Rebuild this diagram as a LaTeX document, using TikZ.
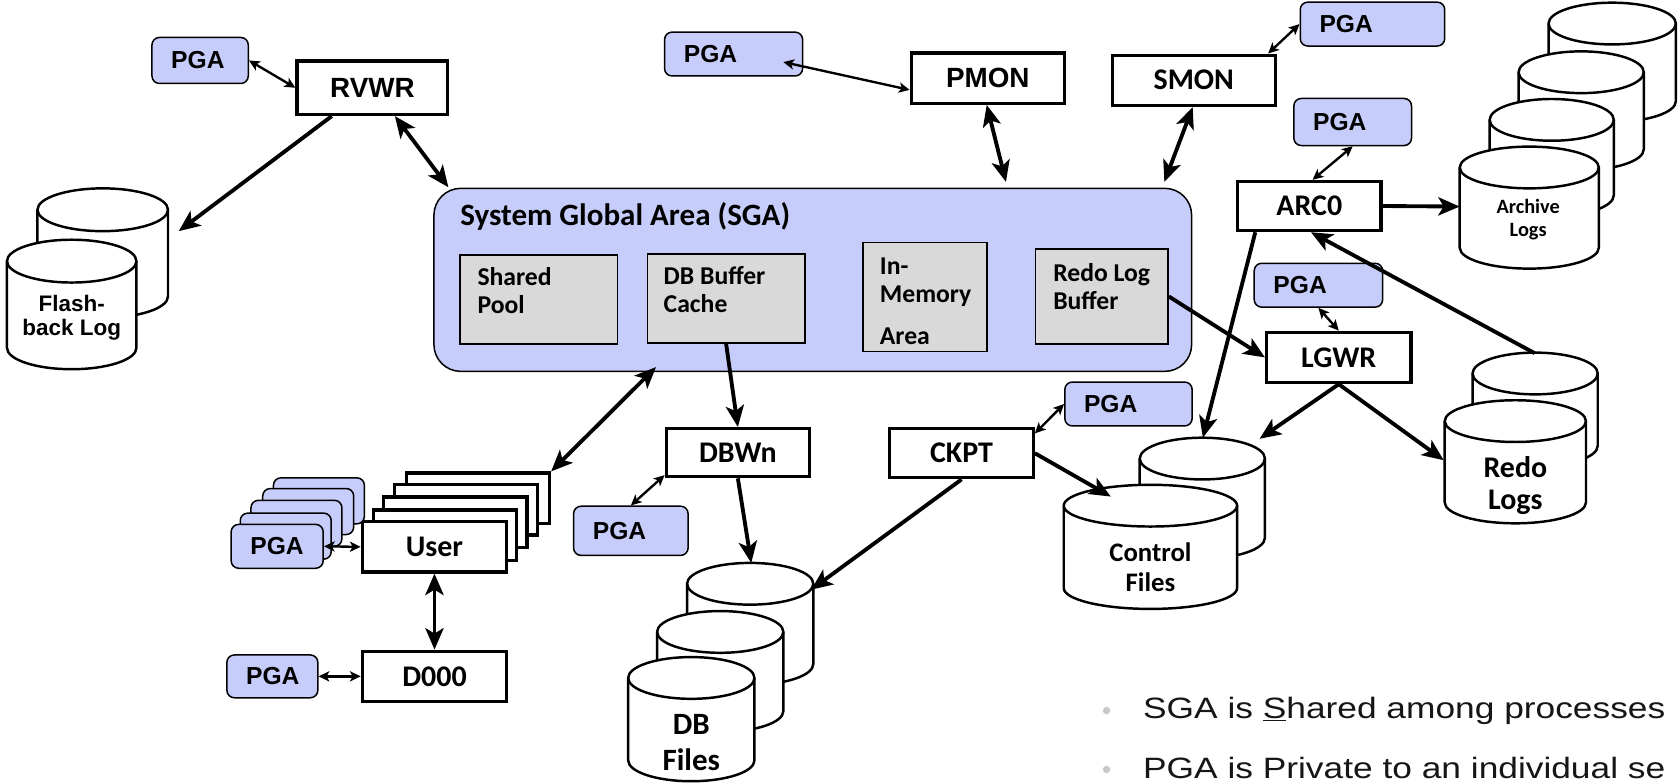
\documentclass[tikz,border=0pt]{standalone}
\usepackage{fontspec}
\setmainfont{Liberation Sans}
\newfontfamily\arialf{Liberation Sans}
\newfontfamily\plexf{Carlito}
\newfontfamily\bulf[FakeStretch=1.2]{Liberation Sans}
\usetikzlibrary{arrows.meta,calc}

\definecolor{pgablue}{RGB}{199,205,250}
\definecolor{memgray}{RGB}{217,217,217}
\definecolor{dotgray}{RGB}{200,200,200}
\definecolor{bultext}{RGB}{22,22,22}

\tikzset{
  bigtip/.tip={Stealth[length=20pt,width=17pt,inset=5pt]},
  smalltip/.tip={Stealth[length=10pt,width=9.5pt,inset=2.5pt]},
  flow/.style={line width=3.6pt,-bigtip},
  biflow/.style={line width=3.6pt,bigtip-bigtip},
  link/.style={line width=2.2pt,smalltip-smalltip},
  proc/.style={draw,line width=3pt,fill=white,inner sep=0pt,font=\plexf\bfseries\fontsize{28}{30}\selectfont},
  procA/.style={proc,font=\arialf\bfseries\fontsize{26}{28}\selectfont},
  pga/.style={draw,line width=1.4pt,fill=pgablue,rounded corners=7pt,inner xsep=18pt,inner ysep=0pt,align=left,font=\arialf\bfseries\fontsize{23}{25}\selectfont},
  pgaback/.style={draw,line width=1.4pt,fill=pgablue,rounded corners=7pt,inner sep=0pt,minimum width=85pt,minimum height=43pt},
  sgabox/.style={draw,line width=1.4pt,fill=pgablue,rounded corners=25pt,inner sep=0pt},
  membox/.style={draw,line width=1.4pt,fill=memgray,inner sep=0pt},
  memtext/.style={inner sep=0pt,anchor=north west,align=left,font=\plexf\bfseries\fontsize{24}{26}\selectfont},
  cyl/.style={draw,line width=2.3pt,fill=white,line join=round},
  cyllabel/.style={inner sep=0pt,align=center},
  bullet/.style={circle,fill=dotgray,inner sep=0pt,minimum size=7pt},
  bultxt/.style={anchor=base west,inner sep=0pt,text=bultext,font=\bulf\fontsize{27.5}{30}\selectfont},
}

% cylinder: cx, top, bottom, rx, ry
\newcommand{\dbcyl}[5]{%
  \path[cyl] ({#1-#4},{#2+#5}) -- ({#1-#4},{#3-#5})
     arc[start angle=180,end angle=0,x radius=#4,y radius=#5]
     -- ({#1+#4},{#2+#5})
     arc[start angle=0,end angle=-180,x radius=#4,y radius=#5] -- cycle;
  \draw[cyl,fill=none] ({#1-#4},{#2+#5}) arc[start angle=180,end angle=0,x radius=#4,y radius=#5];
}

\begin{document}
\begin{tikzpicture}[x=1pt,y=-1pt]
\path[fill=white,use as bounding box] (0,0) rectangle (1568,732);

% ---------- SGA ----------
\node[sgabox,minimum width=708pt,minimum height=171pt] (sga) at (759.5,261.5) {};
\node[anchor=west,inner sep=0pt,font=\plexf\bfseries\fontsize{29}{32}\selectfont] (sgatitle) at (430,202) {System Global Area (SGA)};
\node[membox,minimum width=147pt,minimum height=83pt] (shared) at (503.5,280) {};
\node[memtext] (sharedtxt) at (446,250) {Shared\\Pool};
\node[membox,minimum width=147pt,minimum height=83pt] (dbbuf) at (678.5,279) {};
\node[memtext] (dbbuftxt) at (620,249) {DB Buffer\\Cache};
\node[membox,minimum width=116pt,minimum height=102pt] (inmem) at (864.5,277.5) {};
\node[memtext] (inmemtxt) at (822,241) {In-\\Memory\\[13pt]Area};
\node[membox,minimum width=124pt,minimum height=89pt] (redobuf) at (1029.5,277) {};
\node[memtext] (redobuftxt) at (984,246) {Redo Log\\Buffer};

% ---------- cylinders ----------
% Flashback log
\dbcyl{96}{176}{297}{61}{20}
\dbcyl{67}{224}{345}{60.5}{20}
\node[cyllabel,font=\arialf\bfseries\fontsize{21}{23}\selectfont] (fbtxt) at (67,297) {Flash-\\back Log};
% Archive logs
\dbcyl{1506.5}{2.5}{114}{59.5}{19.5}
\dbcyl{1477.5}{48}{159}{58.5}{19.5}
\dbcyl{1450}{92.5}{202}{58}{19.5}
\dbcyl{1429}{137}{251}{65}{19.5}
\node[cyllabel,font=\plexf\bfseries\fontsize{19}{22}\selectfont] (archtxt) at (1428,205) {Archive\\Logs};
% Redo logs
\dbcyl{1434.5}{329.5}{436}{58.5}{19.5}
\dbcyl{1416}{374}{489}{66}{19.5}
\node[cyllabel,font=\plexf\bfseries\fontsize{28}{30}\selectfont] (redotxt) at (1416,454) {Redo\\Logs};
% Control files
\dbcyl{1123.5}{409}{522}{58.5}{19.5}
\dbcyl{1075}{453}{569}{81}{19.5}
\node[cyllabel,font=\plexf\bfseries\fontsize{25}{28}\selectfont] (ctltxt) at (1075,530) {Control\\Files};
% DB files
\dbcyl{701}{526}{640}{59}{19.5}
\dbcyl{673}{571}{684}{59}{19.5}
\dbcyl{646}{614}{730}{59}{19.5}
\node[cyllabel,font=\plexf\bfseries\fontsize{29}{33}\selectfont] (dbtxt) at (646,694) {DB\\Files};

% ---------- processes ----------
\node[procA,minimum width=141pt,minimum height=50pt] (rvwr) at (348,82) {RVWR};
\node[procA,minimum width=143pt,minimum height=47pt] (pmon) at (923,73) {PMON};
\node[proc,minimum width=152pt,minimum height=47pt] (smon) at (1115.5,75) {SMON};
\node[proc,minimum width=134pt,minimum height=46pt] (arc0) at (1223.5,192.5) {ARC0};
\node[proc,minimum width=135pt,minimum height=47pt] (lgwr) at (1251,334) {LGWR};
\node[proc,minimum width=134pt,minimum height=46pt] (ckpt) at (898.5,423.5) {CKPT};
\node[proc,minimum width=134pt,minimum height=45pt] (dbwn) at (689.5,423) {DBWn};
\node[proc,minimum width=134pt,minimum height=47pt] (userL4) at (446.5,465.5) {};
\node[proc,minimum width=134pt,minimum height=47pt] (userL3) at (435.5,476.5) {};
\node[proc,minimum width=134pt,minimum height=47pt] (userL2) at (425.5,488) {};
\node[proc,minimum width=134pt,minimum height=47pt] (userL1) at (416,500) {};
\node[proc,minimum width=135pt,minimum height=47pt] (user) at (406,511) {User};
\node[proc,minimum width=135pt,minimum height=47pt] (d000) at (406,632) {D000};

% ---------- PGAs ----------
\node[pga,text width=54pt,minimum height=43pt] (pga1) at (187,56.5) {PGA};
\node[pga,text width=93pt,minimum height=41pt] (pga2) at (685.5,50.5) {PGA};
\node[pga,text width=99pt,minimum height=41pt] (pga3) at (1282.5,22.5) {PGA};
\node[pga,text width=74pt,minimum height=44pt] (pga4) at (1264,114) {PGA};
\node[pga,text width=84pt,minimum height=41pt] (pga5) at (1232,266.5) {PGA};
\node[pga,text width=83pt,minimum height=41pt] (pga6) at (1054.5,377.5) {PGA};
\node[pga,text width=71pt,minimum height=46pt] (pga7) at (589.5,496) {PGA};
\node[pgaback] (pgaL4) at (298,468) {};
\node[pgaback] (pgaL3) at (288,478) {};
\node[pgaback] (pgaL2) at (277,489) {};
\node[pgaback] (pgaL1) at (267,501) {};
\node[pga,text width=50pt,minimum height=41pt] (pgau) at (259,510.5) {PGA};
\node[pga,text width=49pt,minimum height=40pt] (pga8) at (254.5,632) {PGA};

% ---------- connector end points ----------
\coordinate (fbin) at (167,216);
\coordinate (sgaA) at (419,175);
\coordinate (sgaB) at (940,170);
\coordinate (sgaC) at (1088,170);
\coordinate (sgaD) at (613,343);
\coordinate (pga2in) at (732,58);
\coordinate (pmonin) at (850,84);
\coordinate (archin) at (1364,193);
\coordinate (ctlA) at (1124,409);
\coordinate (ctlB) at (1177,410);
\coordinate (ctlC) at (1038,464);
\coordinate (redoin) at (1349,430);
\coordinate (redoout) at (1434,330);
\coordinate (dbA) at (702,526);
\coordinate (dbB) at (758,551);

% ---------- connectors ----------
\draw[link] (pga1.east) -- (rvwr.west);
\draw[flow] ([xshift=-38pt]rvwr.south) -- (fbin);
\draw[biflow] ([xshift=21pt]rvwr.south) -- (sgaA);
\draw[link] (pga2in) -- (pmonin);
\draw[biflow] ([xshift=-1pt]pmon.south) -- (sgaB);
\draw[link] ([xshift=-8pt]smon.north east) -- (pga3.west);
\draw[biflow] ([xshift=-1pt]smon.south) -- (sgaC);
\draw[link] (pga4.south) -- ([xshift=3pt]arc0.north);
\draw[flow] (arc0.east) -- (archin);
\draw[flow] ([xshift=18pt]arc0.south west) -- (ctlA);
\draw[flow] (redoout) -- ([xshift=1.5pt]arc0.south);
\draw[link] (pga5.south) -- (lgwr.north);
\draw[flow] (redobuf.east) -- (lgwr.west);
\draw[flow] (lgwr.south) -- (ctlB);
\draw[flow] (lgwr.south) -- (redoin);
\draw[link] ([yshift=-6pt]ckpt.north east) -- (pga6.west);
\draw[flow] (ckpt.east) -- (ctlC);
\draw[flow] (ckpt.south) -- (dbB);
\draw[flow] (dbbuf.south) -- (dbwn.north);
\draw[flow] (dbwn.south) -- (dbA);
\draw[link] ([yshift=3pt]dbwn.south west) -- (pga7.north);
\draw[biflow] (sgaD) -- (userL4.north east);
\draw[link] (pgau.east) -- (user.west);
\draw[biflow] (user.south) -- (d000.north);
\draw[link] (pga8.east) -- (d000.west);

% ---------- bullets ----------
\begin{scope}
\clip (0,0) rectangle (1568,732);
\node[bullet] (dot1) at (1034,664) {};
\node[bullet] (dot2) at (1034,719) {};
\node[bultxt] (bul1) at (1068,671) {SGA is \underline{S}hared among processes};
\node[bultxt] (bul2) at (1068,727) {PGA is Private to an individual se};
\end{scope}
\end{tikzpicture}
\end{document}
